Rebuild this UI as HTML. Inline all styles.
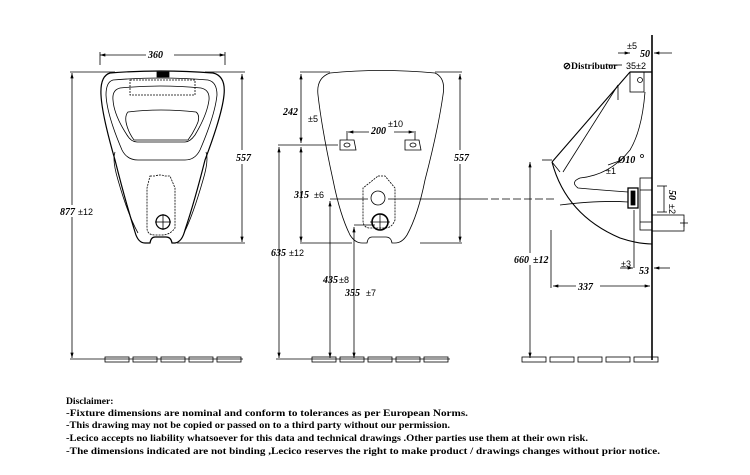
<!DOCTYPE html>
<html><head><meta charset="utf-8"><style>
html,body{margin:0;padding:0;background:#fff}
svg{display:block}
.t{font-family:"Liberation Serif",serif;font-weight:bold;font-style:italic;font-size:10px;fill:#000}
.s{font-family:"Liberation Sans",sans-serif;font-size:9px;fill:#000}
.d{font-family:"Liberation Serif",serif;font-weight:bold;font-size:9.6px;fill:#000}
</style></head><body>
<svg width="750" height="475" viewBox="0 0 750 475" xmlns="http://www.w3.org/2000/svg">
<defs>
<marker id="a" viewBox="0 0 10 6" refX="10" refY="3" markerWidth="7" markerHeight="4" orient="auto-start-reverse"><path d="M0,0L10,3L0,6z" fill="#000"/></marker>
</defs>
<g fill="none" stroke="#000" stroke-width="0.8">
<!-- FRONT VIEW -->
<line x1="100" y1="55" x2="225" y2="55" marker-start="url(#a)" marker-end="url(#a)"/>
<line x1="100" y1="52" x2="100" y2="65"/><line x1="225" y1="52" x2="225" y2="65"/>
<line x1="70" y1="72" x2="115" y2="72"/><line x1="72" y1="73" x2="72" y2="358" marker-start="url(#a)" marker-end="url(#a)"/>
<line x1="70" y1="359" x2="243" y2="359"/>
<line x1="205" y1="72" x2="245" y2="72"/><line x1="177" y1="243" x2="245" y2="243"/>
<line x1="242" y1="74" x2="242" y2="242" marker-start="url(#a)" marker-end="url(#a)"/>
<path d="M110,73 Q160,69 213,73 Q226,76 224,95 Q222,115 205,160 Q195,200 185,230 Q182,242 175,243 L172,243 Q171,237 166,237 L155,237 Q151,237 150,243 L145,243 Q138,243 135,232 Q125,200 115,160 Q102,115 101,95 Q100,76 110,73Z" stroke-width="1.2"/>
<path d="M113,80 Q160,76 208,80 Q217,82 217,95 Q215,115 200,150 Q195,160 185,160 L138,160 Q127,160 122,150 Q107,115 106,95 Q106,82 113,80Z"/>
<path d="M120,88 Q160,84 201,88 Q210,90 209,100 Q207,115 195,135 Q190,142 185,142 L137,142 Q131,142 127,135 Q114,115 113,100 Q112,90 120,88Z"/>
<path d="M128,112 Q160,108 196,112 Q200,115 198,122 Q194,132 188,140 L134,140 Q128,132 126,122 Q125,115 128,112Z"/>
<rect x="130" y="80" width="65" height="15" stroke-dasharray="2,1"/>
<rect x="157" y="72" width="12" height="5" fill="#000"/>
<path d="M115,152 Q112,160 118,180 Q128,215 138,233"/><path d="M206,152 Q209,160 203,180 Q193,215 184,233"/>
<path d="M150,176 L155,176 Q160,174 165,176 L170,176 L175,188 L175,228 Q170,235 162,235 L155,235 Q147,235 147,228 L147,188Z" stroke-dasharray="2,1"/>
<circle cx="163" cy="222" r="7" stroke-width="1.2"/><line x1="155" y1="222" x2="171" y2="222"/><line x1="163" y1="214" x2="163" y2="230"/>
<!-- tiles -->
<rect x="105" y="357" width="24" height="5"/><rect x="133" y="357" width="24" height="5"/><rect x="161" y="357" width="24" height="5"/><rect x="189" y="357" width="24" height="5"/><rect x="217" y="357" width="24" height="5"/>
<!-- BACK VIEW -->
<path d="M330,73 Q380,68 435,73 Q446,78 443,95 Q438,130 425,180 Q418,215 407,235 Q402,243 395,243 L392,243 Q391,237 386,237 L372,237 Q368,237 367,243 L362,243 Q355,243 350,235 Q340,215 333,180 Q322,130 318,95 Q316,78 330,73Z"/>
<line x1="300" y1="72" x2="330" y2="72"/><line x1="435" y1="72" x2="462" y2="72"/>
<line x1="301" y1="74" x2="301" y2="143" marker-start="url(#a)" marker-end="url(#a)"/>
<line x1="301" y1="147" x2="301" y2="242" marker-start="url(#a)" marker-end="url(#a)"/>
<line x1="300" y1="243" x2="352" y2="243"/><line x1="420" y1="243" x2="462" y2="243"/>
<line x1="460" y1="74" x2="460" y2="242" marker-start="url(#a)" marker-end="url(#a)"/>
<line x1="347" y1="131" x2="347" y2="140"/><line x1="415" y1="131" x2="415" y2="140"/>
<line x1="348" y1="132" x2="369" y2="132" marker-start="url(#a)"/><line x1="394" y1="132" x2="414" y2="132" marker-end="url(#a)"/>
<path d="M340,140 L354,140 L356,150 L340,150Z"/><ellipse cx="347" cy="145" rx="3" ry="2"/>
<path d="M405,140 L419,140 L421,150 L405,150Z"/><ellipse cx="413" cy="145" rx="3" ry="2"/>
<line x1="278" y1="145" x2="338" y2="145"/>
<line x1="279" y1="147" x2="279" y2="358" marker-start="url(#a)" marker-end="url(#a)"/>
<line x1="276" y1="359" x2="450" y2="359"/>
<path d="M378,176 L385,176 L395,188 L395,220 Q392,228 385,228 L370,228 Q363,228 363,220 L363,188Z" stroke-dasharray="2,1"/>
<circle cx="378" cy="198" r="7"/>
<circle cx="380" cy="222" r="8" stroke-width="1.6"/><line x1="370" y1="222" x2="390" y2="222"/><line x1="380" y1="214" x2="380" y2="230"/>
<line x1="330" y1="199" x2="368" y2="199"/><line x1="388" y1="199" x2="480" y2="199"/>
<line x1="480" y1="199" x2="556" y2="199" stroke-dasharray="8,3"/>
<line x1="330" y1="201" x2="330" y2="358" marker-start="url(#a)" marker-end="url(#a)"/>
<line x1="354" y1="225" x2="375" y2="225"/>
<line x1="354" y1="227" x2="354" y2="358" marker-start="url(#a)" marker-end="url(#a)"/>
<rect x="312" y="357" width="24" height="5"/><rect x="340" y="357" width="24" height="5"/><rect x="368" y="357" width="24" height="5"/><rect x="396" y="357" width="24" height="5"/><rect x="424" y="357" width="24" height="5"/>
<!-- SIDE VIEW -->
<line x1="652" y1="35" x2="652" y2="360" stroke-width="1.6"/>
<line x1="618" y1="53" x2="630" y2="53" marker-end="url(#a)"/><line x1="672" y1="53" x2="654" y2="53" marker-end="url(#a)"/>
<line x1="630" y1="72" x2="652" y2="72" stroke-width="1.2"/>
<rect x="630" y="72" width="14" height="20"/><circle cx="640" cy="80" r="2.5"/>
<path d="M630,72 L552,162" stroke-width="1.1"/><path d="M618,85 L563,172" /><path d="M618,85 L618,100"/>
<path d="M552,162 L560,172"/>
<path d="M552,162 Q566,215 620,238 Q638,244 652,244" stroke-width="1.1"/>
<path d="M645,92 Q642,130 630,150 Q610,175 580,178 Q570,182 578,188 Q600,190 628,192"/>
<path d="M560,205 Q600,200 628,202"/>
<rect x="628" y="188" width="10" height="20" stroke-width="1.3"/><rect x="631" y="191" width="4" height="14" fill="#000"/>
<rect x="640" y="178" width="12" height="52"/><line x1="640" y1="190" x2="652" y2="190"/><line x1="640" y1="222" x2="652" y2="222"/>
<rect x="652" y="215" width="32" height="16"/><line x1="680" y1="223" x2="688" y2="223"/><line x1="684" y1="219" x2="684" y2="227"/>
<line x1="657" y1="186" x2="667" y2="186"/><line x1="657" y1="212" x2="667" y2="212"/><line x1="664" y1="186" x2="664" y2="212"/>
<line x1="634" y1="210" x2="634" y2="268"/>
<line x1="620" y1="268" x2="633" y2="268" marker-end="url(#a)"/><line x1="670" y1="268" x2="654" y2="268" marker-end="url(#a)"/>
<line x1="542" y1="160" x2="552" y2="160"/>
<line x1="530" y1="162" x2="530" y2="358" marker-start="url(#a)" marker-end="url(#a)"/>
<line x1="551" y1="230" x2="551" y2="288"/>
<line x1="553" y1="286" x2="650" y2="286" marker-start="url(#a)" marker-end="url(#a)"/>
<line x1="608" y1="165" x2="622" y2="160"/><circle cx="642" cy="156" r="1.5"/>
<rect x="522" y="357" width="24" height="5"/><rect x="550" y="357" width="24" height="5"/><rect x="578" y="357" width="24" height="5"/><rect x="606" y="357" width="24" height="5"/><rect x="634" y="357" width="24" height="5"/>
<line x1="608" y1="65" x2="622" y2="65"/>
</g>
<rect x="146" y="52" width="28" height="8" fill="#fff"/>
<text class="t" x="148" y="58">360</text>
<rect x="240" y="150" width="8" height="14" fill="#fff"/>
<text class="t" x="236" y="161">557</text>
<rect x="60" y="205" width="35" height="12" fill="#fff"/>
<text class="t" x="60" y="215">877</text><text class="s" x="78" y="215">±12</text>
<text class="t" x="283" y="115">242</text><text class="s" x="308" y="122">±5</text>
<rect x="369" y="125" width="25" height="10" fill="#fff"/>
<text class="t" x="371" y="134">200</text><text class="s" x="388" y="127">±10</text>
<rect x="455" y="150" width="10" height="14" fill="#fff"/>
<text class="t" x="454" y="161">557</text>
<text class="t" x="294" y="198">315</text><text class="s" x="314" y="198">±6</text>
<text class="t" x="271" y="256">635</text><text class="s" x="289" y="256">±12</text>
<text class="t" x="323" y="283">435</text><text class="s" x="339" y="283">±8</text>
<text class="t" x="345" y="296">355</text><text class="s" x="366" y="296">±7</text>
<text class="s" x="627" y="49">±5</text>
<text class="t" x="640" y="57">50</text>
<text class="d" x="563" y="69" font-size="8">⊘Distributor</text>
<text class="s" x="626" y="69" font-size="10">35±2</text>
<text class="t" x="618" y="163" font-size="8">Ø10</text>
<text class="s" x="606" y="174">±1</text>
<text class="t" x="669" y="190" transform="rotate(90 669 190)">50</text>
<text class="s" x="669" y="204" transform="rotate(90 669 204)">±2</text>
<rect x="522" y="253" width="26" height="12" fill="#fff"/>
<text class="t" x="514" y="263">660</text><text class="t" x="533" y="263" font-size="9">±12</text>
<text class="s" x="621" y="267">±3</text>
<text class="t" x="639" y="274">53</text>
<rect x="576" y="281" width="24" height="10" fill="#fff"/>
<text class="t" x="578" y="290">337</text>
<text class="d" x="66" y="404">Disclaimer:</text>
<text class="d" x="66" y="416" textLength="402" lengthAdjust="spacingAndGlyphs">-Fixture dimensions are nominal and conform to tolerances as per European Norms.</text>
<text class="d" x="66" y="428" textLength="384" lengthAdjust="spacingAndGlyphs">-This drawing may not be copied or passed on to a third party without our permission.</text>
<text class="d" x="66" y="441" textLength="522" lengthAdjust="spacingAndGlyphs">-Lecico accepts no liability whatsoever for this data and technical drawings .Other parties use them at their own risk.</text>
<text class="d" x="66" y="454" textLength="594" lengthAdjust="spacingAndGlyphs">-The dimensions indicated are not binding ,Lecico reserves the right to make product / drawings changes without prior notice.</text>
</svg>
</body></html>
